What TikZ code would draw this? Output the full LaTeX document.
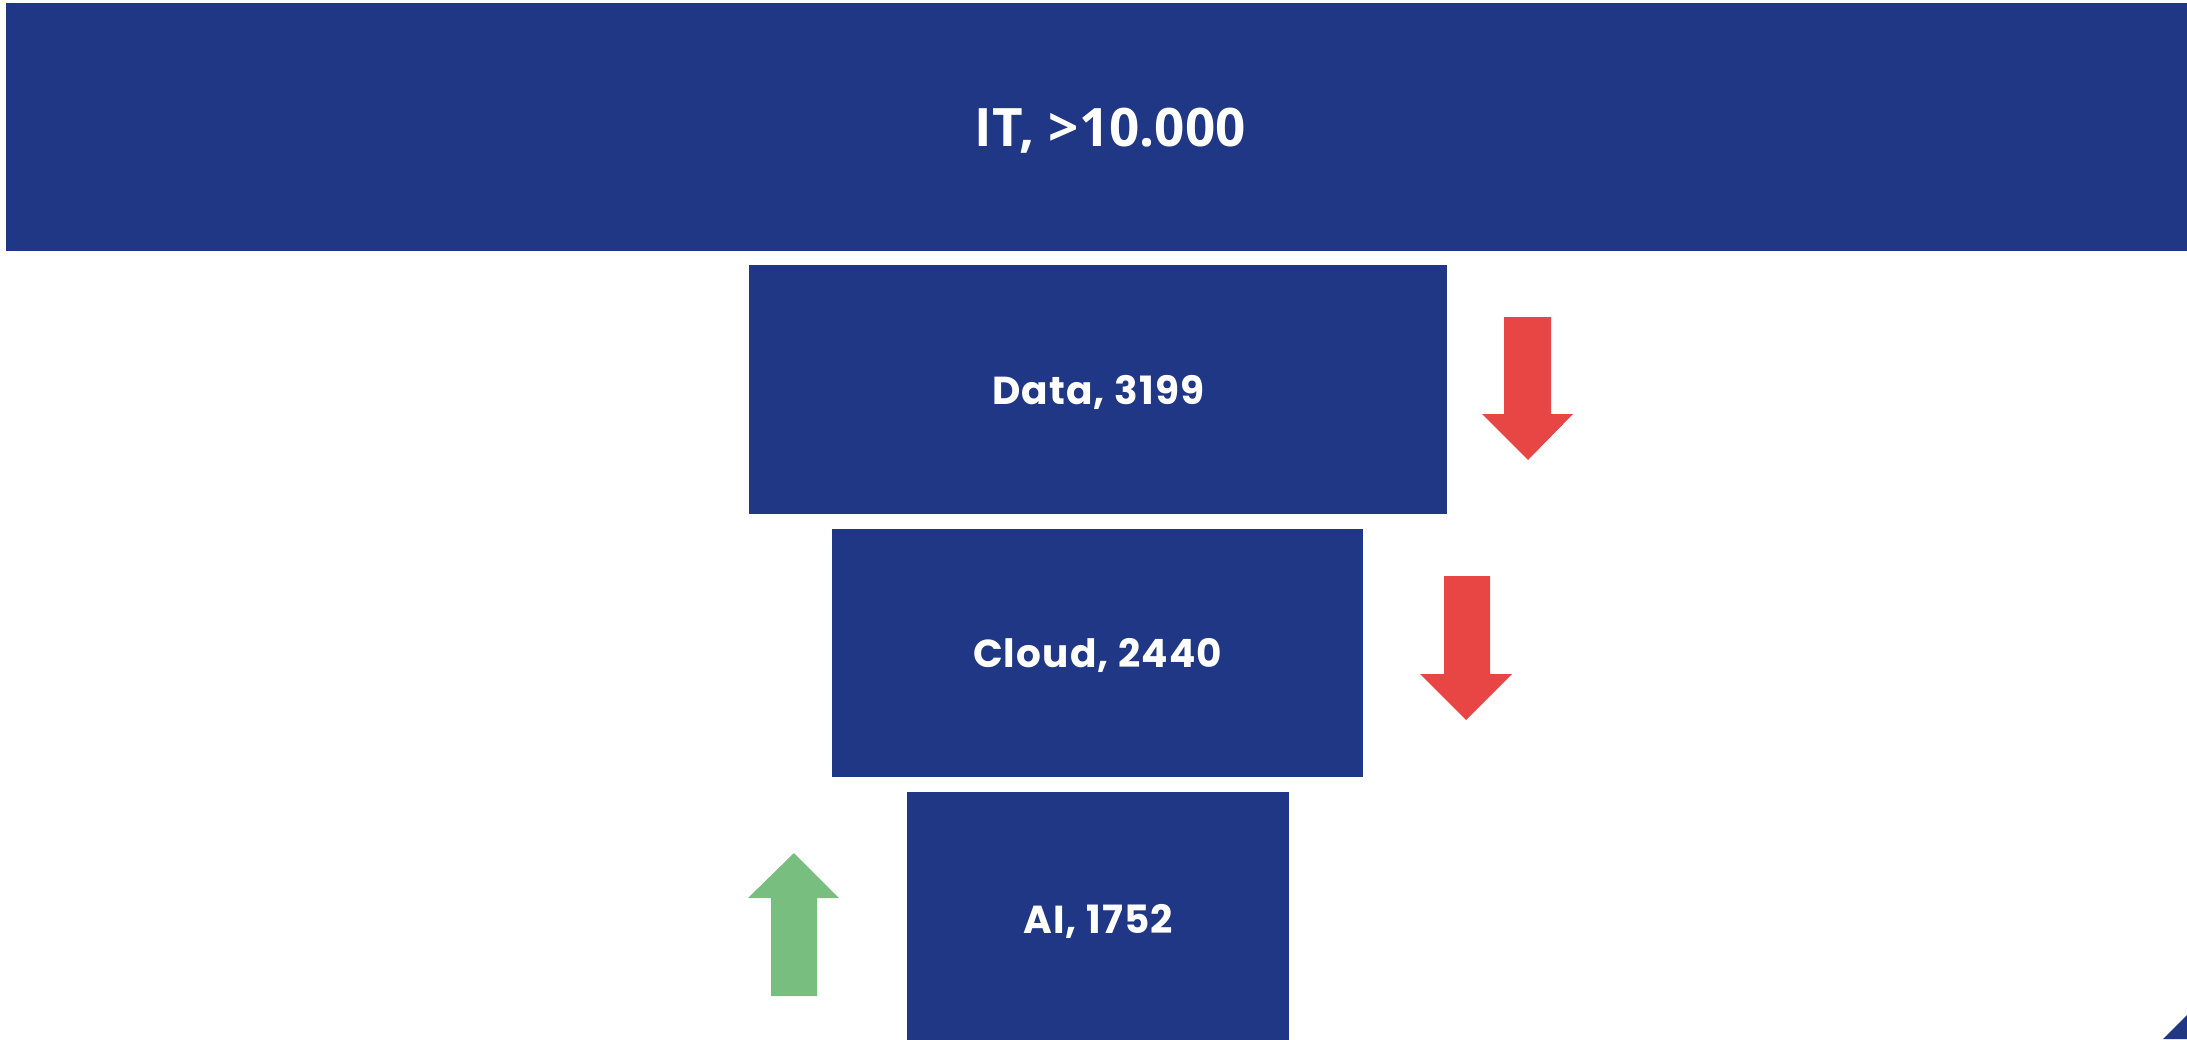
\documentclass[tikz,border=0pt]{standalone}
\usepackage{fontspec}
\newfontfamily\popf{Poppins}[LetterSpace=3]
\newfontfamily\opf{Open Sans}
\definecolor{barblue}{RGB}{31,55,133}
\definecolor{downred}{RGB}{232,69,69}
\definecolor{upgreen}{RGB}{120,190,126}
\tikzset{
  bar/.style={fill=barblue, draw=none, rectangle, inner sep=0pt, anchor=north west, text=white, text depth=0pt},
  lbl/.style={font=\popf\bfseries\fontsize{39}{41}\selectfont},
  toplbl/.style={font=\opf\bfseries\fontsize{53}{56}\selectfont},
}
\begin{document}
\begin{tikzpicture}[x=1pt,y=-1pt]
\useasboundingbox (0,0) rectangle (2187,1039);
\clip (0,0) rectangle (2187,1039);
\node[bar, toplbl, minimum width=2208pt, minimum height=248pt] (it) at (6,3) {IT, >10.000};
\node[bar, lbl, minimum width=698pt, minimum height=249pt] (data) at (749,265) {Data, 3199};
\node[bar, lbl, minimum width=531pt, minimum height=248pt] (cloud) at (832,529) {Cloud, 2440};
\node[bar, lbl, minimum width=382pt, minimum height=254pt] (ai) at (907,792) {AI, 1752};
% red arrow next to Data
\fill[downred] (1504,317) -- (1551,317) -- (1551,414) -- (1573,414) -- (1528,460) -- (1482,414) -- (1504,414) -- cycle;
% red arrow next to Cloud
\fill[downred] (1444,576) -- (1490,576) -- (1490,674) -- (1512,674) -- (1466,720) -- (1420,674) -- (1444,674) -- cycle;
% green arrow next to AI
\fill[upgreen] (771,996) -- (771,898) -- (748,898) -- (794,853) -- (839,898) -- (817,898) -- (817,996) -- cycle;
% corner triangle
\fill[barblue] (2163,1039) -- (2187,1015) -- (2187,1039) -- cycle;
\end{tikzpicture}
\end{document}
